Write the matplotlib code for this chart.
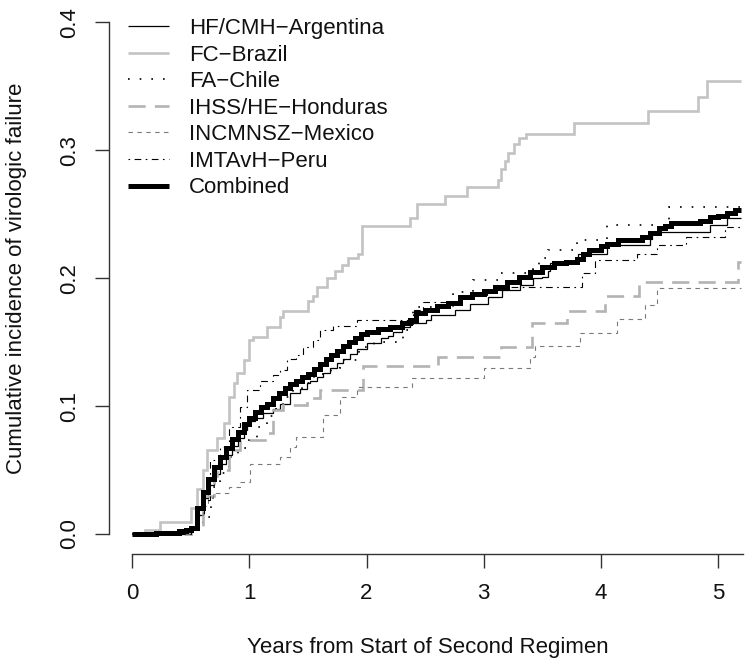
import matplotlib
matplotlib.use("Agg")
import matplotlib.pyplot as plt

plt.rcParams['font.family'] = ['Liberation Sans', 'DejaVu Sans']

# ---- data (step functions: time of jump, value after jump) ----
x_end = 5.2

arg_t = [0.5, 0.55, 0.6, 0.65, 0.7, 0.75, 0.8, 0.85, 0.9, 0.95, 0.98, 1.05, 1.12, 1.2, 1.26,
         1.35, 1.43, 1.49, 1.52, 1.575, 1.63, 1.69, 1.75, 1.8, 1.86, 1.92, 2.0, 2.12, 2.18,
         2.23, 2.3, 2.37, 2.51, 2.55, 2.76, 2.88, 3.04, 3.16, 3.31, 3.42, 3.5, 3.55, 3.57,
         3.81, 4.05, 4.42, 4.44, 4.93, 5.08]
arg_v = [0.004, 0.015, 0.028, 0.038, 0.047, 0.055, 0.062, 0.069, 0.075, 0.081, 0.088, 0.091,
         0.0945, 0.098, 0.102, 0.110, 0.113, 0.118, 0.120, 0.123, 0.126, 0.1295, 0.134, 0.137,
         0.141, 0.145, 0.149, 0.153, 0.155, 0.158, 0.162, 0.165, 0.167, 0.171, 0.175, 0.180,
         0.1855, 0.191, 0.195, 0.200, 0.201, 0.206, 0.2117, 0.219, 0.226, 0.231, 0.236,
         0.2416, 0.247]

bra_t = [0.11, 0.24, 0.5, 0.55, 0.6, 0.64, 0.72, 0.78, 0.83, 0.87, 0.89, 0.95, 1.0, 1.03,
         1.15, 1.26, 1.29, 1.5, 1.545, 1.58, 1.66, 1.73, 1.79, 1.845, 1.93, 1.96, 2.37, 2.43,
         2.67, 2.855, 3.12, 3.15, 3.18, 3.21, 3.26, 3.3, 3.36, 3.77, 4.40, 4.83, 4.91]
bra_v = [0.003, 0.0096, 0.02, 0.035, 0.05, 0.066, 0.075, 0.087, 0.107, 0.118, 0.1256, 0.136,
         0.1517, 0.154, 0.162, 0.170, 0.174, 0.182, 0.186, 0.193, 0.200, 0.206, 0.210, 0.216,
         0.219, 0.241, 0.247, 0.258, 0.264, 0.271, 0.277, 0.285, 0.292, 0.298, 0.305, 0.310,
         0.313, 0.321, 0.331, 0.342, 0.354]

chi_t = [0.55, 0.6, 0.64, 0.67, 0.69, 0.75, 0.83, 0.9, 1.0, 1.065, 1.15, 1.23, 1.29, 1.375,
         1.45, 1.55, 1.7, 1.77, 1.94, 2.06, 2.31, 2.4, 2.74, 2.91, 3.14, 3.42, 3.47, 3.55,
         3.8, 4.05, 4.58]
chi_v = [0.005, 0.010, 0.0135, 0.025, 0.037, 0.048, 0.060, 0.067, 0.0735, 0.084, 0.092,
         0.0995, 0.107, 0.1126, 0.118, 0.125, 0.130, 0.136, 0.1465, 0.150, 0.1595, 0.1777,
         0.1895, 0.1986, 0.204, 0.207, 0.216, 0.222, 0.230, 0.2416, 0.256]

hon_t = [0.5, 0.6, 0.7, 0.72, 0.83, 0.85, 0.92, 1.15, 1.2, 1.29, 1.49, 1.6, 1.97, 2.61, 3.15,
         3.41, 3.71, 4.04, 4.33, 5.17]
hon_v = [0.005, 0.03, 0.045, 0.05, 0.060, 0.066, 0.0735, 0.0787, 0.097, 0.101, 0.106, 0.1126,
         0.131, 0.1386, 0.1465, 0.165, 0.174, 0.186, 0.197, 0.213]

mex_t = [0.5, 0.55, 0.6, 0.65, 0.69, 0.83, 0.92, 1.005, 1.26, 1.345, 1.40, 1.63, 1.77, 1.92,
         2.39, 3.0, 3.4, 3.44, 3.82, 4.14, 4.38, 4.48]
mex_v = [0.005, 0.015, 0.022, 0.028, 0.032, 0.037, 0.041, 0.055, 0.060, 0.068, 0.076, 0.093,
         0.107, 0.115, 0.122, 0.1295, 0.1386, 0.147, 0.157, 0.168, 0.179, 0.192]

per_t = [0.5, 0.55, 0.61, 0.66, 0.75, 0.83, 0.92, 0.977, 1.09, 1.2, 1.26, 1.32, 1.4, 1.46,
         1.545, 1.6, 1.71, 1.92, 2.4, 2.48, 2.8, 3.03, 3.2, 3.84, 3.95, 4.31, 4.48, 4.73, 5.06]
per_v = [0.005, 0.015, 0.0266, 0.058, 0.068, 0.084, 0.0995, 0.1126, 0.120, 0.124, 0.128,
         0.137, 0.140, 0.1465, 0.1517, 0.1595, 0.163, 0.167, 0.175, 0.1816, 0.187, 0.191,
         0.1934, 0.204, 0.214, 0.219, 0.226, 0.2325, 0.240]

com_t = [0.2, 0.4, 0.46, 0.5, 0.55, 0.6, 0.65, 0.7, 0.75, 0.8, 0.85, 0.9, 0.95, 1.0, 1.05,
         1.1, 1.15, 1.2, 1.25, 1.3, 1.35, 1.4, 1.45, 1.5, 1.55, 1.6, 1.65, 1.7, 1.75, 1.8,
         1.85, 1.9, 1.95, 2.0, 2.1, 2.2, 2.3, 2.37, 2.42, 2.5, 2.6, 2.7, 2.8, 2.9, 3.0, 3.1,
         3.2, 3.3, 3.4, 3.5, 3.6, 3.7, 3.8, 3.85, 3.9, 4.0, 4.05, 4.15, 4.35, 4.42, 4.5, 4.55,
         4.6, 4.85, 4.93, 5.0, 5.08, 5.15]
com_v = [0.001, 0.002, 0.003, 0.005, 0.02, 0.033, 0.043, 0.052, 0.060, 0.067, 0.074, 0.080,
         0.086, 0.091, 0.095, 0.099, 0.102, 0.106, 0.110, 0.114, 0.117, 0.120, 0.123, 0.125,
         0.129, 0.133, 0.137, 0.140, 0.143, 0.147, 0.150, 0.153, 0.156, 0.158, 0.160, 0.162,
         0.165, 0.167, 0.173, 0.175, 0.178, 0.181, 0.185, 0.188, 0.190, 0.193, 0.197, 0.201,
         0.205, 0.209, 0.212, 0.213, 0.215, 0.219, 0.222, 0.225, 0.227, 0.230, 0.232, 0.235,
         0.239, 0.241, 0.243, 0.245, 0.248, 0.249, 0.251, 0.253]

labels = ["HF/CMH\u2212Argentina", "FC\u2212Brazil", "FA\u2212Chile", "IHSS/HE\u2212Honduras",
          "INCMNSZ\u2212Mexico", "IMTAvH\u2212Peru", "Combined"]
x_ticks = [0, 1, 2, 3, 4, 5]
y_ticks = [0.0, 0.1, 0.2, 0.3, 0.4]

series = [(arg_t, arg_v), (bra_t, bra_v), (chi_t, chi_v), (hon_t, hon_v),
          (mex_t, mex_v), (per_t, per_v), (com_t, com_v)]
styles = [
    dict(color='black', lw=0.9, ls='-'),
    dict(color='#c3c3c3', lw=1.9, ls='-'),
    dict(color='black', lw=1.2, ls=(0, (1, 6))),
    dict(color='#b3b3b3', lw=1.9, ls=(0, (6.5, 3.5))),
    dict(color='#7a7a7a', lw=0.8, ls=(0, (4, 4))),
    dict(color='black', lw=0.8, ls=(0, (1.5, 4, 6, 4))),
    dict(color='black', lw=3.6, ls='-'),
]

# ---- figure ----
W, H = 751, 669
fig = plt.figure(figsize=(W / 100, H / 100), dpi=100)
ax_l, ax_r, ax_b, ax_t = 109, 751, 554, 2
ax = fig.add_axes([ax_l / W, (H - ax_b) / H, (ax_r - ax_l) / W, (ax_b - ax_t) / H])

px_per_x = 117.1
px_per_y = 1279.0
x0px, y0px = 132.3, 534.0
ax.set_xlim((ax_l - x0px) / px_per_x, (ax_r - x0px) / px_per_x)
ax.set_ylim(-(ax_b - y0px) / px_per_y, (y0px - ax_t) / px_per_y)

for (t, v), st, lab in zip(series, styles, labels):
    xs = [0] + list(t) + [x_end]
    ys = [0] + list(v) + [v[-1]]
    ax.step(xs, ys, where='post', label=lab, solid_capstyle='butt',
            solid_joinstyle='miter', dash_capstyle='butt', dash_joinstyle='miter', **st)

for s in ['top', 'right']:
    ax.spines[s].set_visible(False)
ax.spines['left'].set_bounds(0, 0.4)
ax.spines['bottom'].set_bounds(0, 5.215)
for s in ['left', 'bottom']:
    ax.spines[s].set_color('#333333')
    ax.spines[s].set_linewidth(1.0)

ax.set_xticks(x_ticks)
ax.set_xticklabels([str(v) for v in x_ticks])
ax.set_yticks(y_ticks)
ax.set_yticklabels(["%.1f" % v for v in y_ticks], rotation=90, va='center')
ax.tick_params(axis='both', length=10, width=1.0, color='#333333', labelsize=16,
               labelcolor='#111111')
ax.tick_params(axis='x', pad=11)
ax.tick_params(axis='y', pad=11)

fig.text(17 / W, (H - 278) / H, "Cumulative incidence of virologic failure", rotation=90,
         ha='center', va='center', fontsize=16, color='#111111')
fig.text(428 / W, (H - 647) / H, "Years from Start of Second Regimen", ha='center',
         va='center', fontsize=16, color='#111111')

leg = ax.legend(loc='upper left', bbox_to_anchor=(128 / W, (H - 18) / H),
                bbox_transform=fig.transFigure, frameon=False, fontsize=16,
                handlelength=1.85, handletextpad=0.9, labelspacing=0.25,
                borderpad=0, borderaxespad=0)
for t in leg.get_texts():
    t.set_color('#111111')

fig.savefig("out.png", dpi=100)
